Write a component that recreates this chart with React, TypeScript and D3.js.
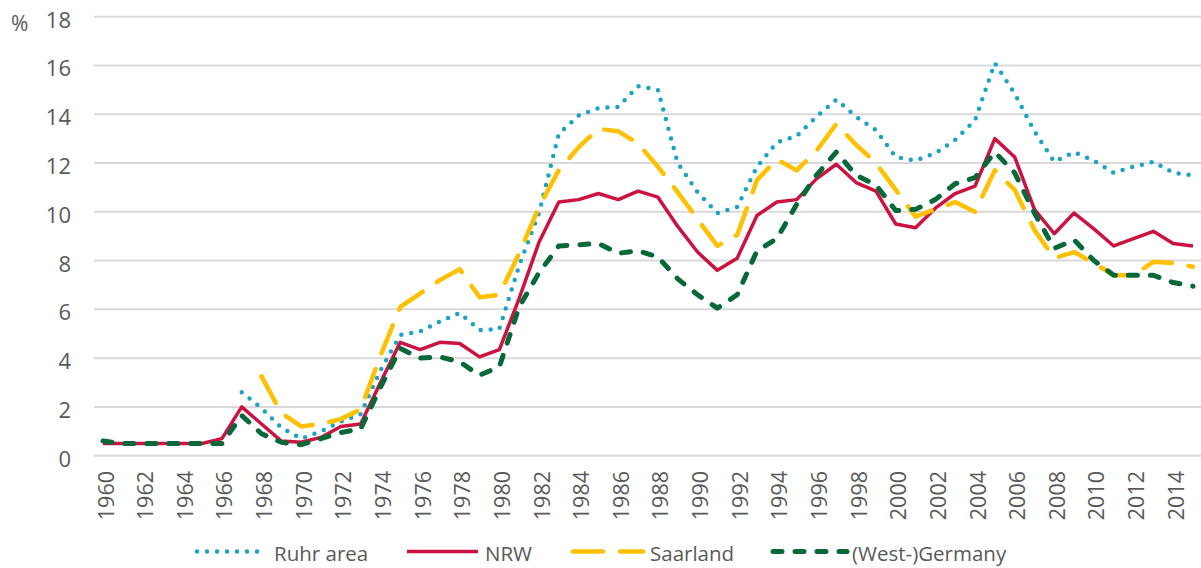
import React from "react";
import * as d3 from "d3";

// categories
const years = [
  1960, 1961, 1962, 1963, 1964, 1965, 1966, 1967, 1968, 1969,
  1970, 1971, 1972, 1973, 1974, 1975, 1976, 1977, 1978, 1979,
  1980, 1981, 1982, 1983, 1984, 1985, 1986, 1987, 1988, 1989,
  1990, 1991, 1992, 1993, 1994, 1995, 1996, 1997, 1998, 1999,
  2000, 2001, 2002, 2003, 2004, 2005, 2006, 2007, 2008, 2009,
  2010, 2011, 2012, 2013, 2014, 2015,
];

// series values (%), null = no data
const ruhr = [
  null, null, null, null, null, null, null, 2.6, 1.95, 1.15,
  0.7, 1.0, 1.4, 1.7, 3.5, 4.95, 5.1, 5.5, 5.85, 5.15,
  5.2, 7.8, 9.95, 13.2, 13.95, 14.25, 14.3, 15.15, 15.0, 12.0,
  10.8, 9.95, 10.2, 11.85, 12.85, 13.1, 13.9, 14.6, 13.9, 13.35,
  12.25, 12.1, 12.4, 12.95, 13.75, 16.1, 14.85, 13.3, 12.05, 12.45,
  12.1, 11.6, 11.85, 12.05, 11.6, 11.5,
];
const nrw = [
  0.5, 0.5, 0.5, 0.5, 0.5, 0.5, 0.7, 2.0, 1.3, 0.6,
  0.55, 0.75, 1.2, 1.3, 3.0, 4.65, 4.35, 4.65, 4.6, 4.05,
  4.35, 6.45, 8.75, 10.4, 10.5, 10.75, 10.5, 10.85, 10.6, 9.4,
  8.35, 7.6, 8.1, 9.85, 10.4, 10.5, 11.35, 11.95, 11.2, 10.85,
  9.5, 9.35, 10.15, 10.75, 11.05, 13.0, 12.25, 10.1, 9.1, 9.95,
  9.3, 8.6, 8.9, 9.2, 8.7, 8.6,
];
const saarland = [
  null, null, null, null, null, null, null, null, 3.25, 1.75,
  1.2, 1.3, 1.5, 1.9, 4.1, 6.1, 6.65, 7.2, 7.65, 6.5,
  6.6, 8.3, 10.2, 11.7, 12.65, 13.4, 13.3, 12.8, 11.85, 10.8,
  9.7, 8.6, 9.05, 11.3, 12.15, 11.7, 12.5, 13.6, 12.75, 12.0,
  10.9, 9.8, 10.1, 10.4, 10.0, 11.7, 10.9, 9.25, 8.1, 8.35,
  7.9, 7.4, 7.4, 7.95, 7.9, 7.75,
];
const germany = [
  0.6, 0.5, 0.5, 0.5, 0.5, 0.5, 0.5, 1.65, 0.9, 0.55,
  0.45, 0.7, 0.95, 1.1, 2.8, 4.4, 4.0, 4.05, 3.85, 3.3,
  3.65, 6.1, 7.5, 8.6, 8.65, 8.7, 8.3, 8.4, 8.15, 7.25,
  6.6, 6.05, 6.6, 8.4, 8.9, 10.3, 11.5, 12.45, 11.5, 11.1,
  10.05, 10.1, 10.5, 11.15, 11.4, 12.45, 11.6, 9.95, 8.5, 8.85,
  8.0, 7.4, 7.4, 7.4, 7.1, 6.95,
];

const yTicks = [0, 2, 4, 6, 8, 10, 12, 14, 16, 18];
const xTickYears = years.filter((y) => y % 2 === 0);

const seriesNames = ["Ruhr area", "NRW", "Saarland", "(West-)Germany"];

const styles = [
  { color: "#1ca3c4", width: 4.5, dash: "0 10", cap: "round" },
  { color: "#cc1240", width: 3.5, dash: null, cap: "butt" },
  { color: "#ffc000", width: 4.5, dash: "30 17", cap: "round" },
  { color: "#07683a", width: 5, dash: "9 13", cap: "round" },
];

const W = 1201;
const H = 568;
const FONT = "'Open Sans', sans-serif";
const TEXT = "#595959";

export default function App() {
  const x = d3.scaleLinear().domain([1960, 2015]).range([103, 1193]);
  const y = d3.scaleLinear().domain([0, 18]).range([455.7, 16.7]);

  const line = d3
    .line<number | null>()
    .defined((d) => d !== null)
    .x((_, i) => x(years[i]))
    .y((d) => y(d as number));

  const allSeries = [ruhr, nrw, saarland, germany];

  const legendPos = [
    { x1: 197, x2: 265, tx: 274 },
    { x1: 407, x2: 478, tx: 485 },
    { x1: 573, x2: 643, tx: 650 },
    { x1: 773, x2: 847, tx: 852 },
  ];

  return (
    <svg
      width={W}
      height={H}
      style={{ position: "fixed", left: 0, top: 0, background: "#fff" }}
      fontFamily={FONT}
    >
      {/* gridlines */}
      {yTicks.map((t) => (
        <line key={t} x1={94} x2={W} y1={y(t)} y2={y(t)} stroke="#d9d9d9" strokeWidth={2} />
      ))}

      {/* y tick labels */}
      {yTicks.map((t) => (
        <text
          key={"yl" + t}
          x={71}
          y={y(t) + 2}
          textAnchor="end"
          dominantBaseline="central"
          fontSize={22}
          fill={TEXT}
        >
          {t}
        </text>
      ))}
      <text x={11} y={23} dominantBaseline="central" fontSize={21} fill={TEXT}>
        %
      </text>

      {/* x tick labels */}
      {xTickYears.map((yr) => (
        <text
          key={"xl" + yr}
          transform={`translate(${x(yr) + 2},471) rotate(-90)`}
          textAnchor="end"
          dominantBaseline="central"
          fontSize={21.5}
          fill={TEXT}
        >
          {yr}
        </text>
      ))}

      {/* lines */}
      {allSeries.map((s, i) => (
        <path
          key={"s" + i}
          d={line(s) || ""}
          fill="none"
          stroke={styles[i].color}
          strokeWidth={styles[i].width}
          strokeDasharray={styles[i].dash || undefined}
          strokeLinecap={styles[i].cap as any}
          strokeLinejoin="round"
        />
      ))}

      {/* legend */}
      {seriesNames.map((name, i) => (
        <g key={"lg" + i}>
          <line
            x1={legendPos[i].x1}
            x2={legendPos[i].x2}
            y1={551.5}
            y2={551.5}
            stroke={styles[i].color}
            strokeWidth={styles[i].width}
            strokeDasharray={styles[i].dash || undefined}
            strokeLinecap={styles[i].cap as any}
          />
          <text
            x={legendPos[i].tx}
            y={553}
            dominantBaseline="central"
            fontSize={20.5}
            fill={TEXT}
          >
            {name}
          </text>
        </g>
      ))}
    </svg>
  );
}
